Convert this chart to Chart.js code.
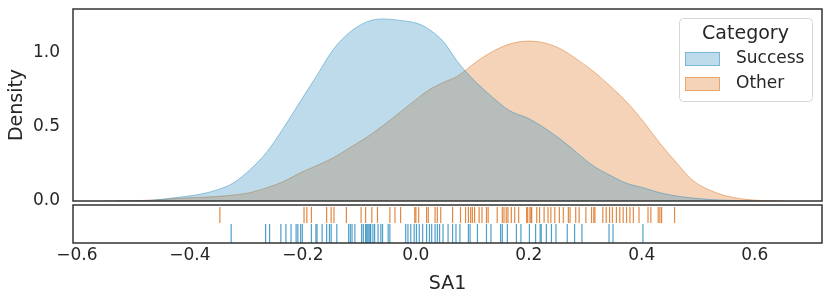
<!DOCTYPE html>
<html>
<head>
<meta charset="utf-8">
<script src="https://cdn.jsdelivr.net/npm/chart.js@4.4.1/dist/chart.umd.min.js"></script>
<style>
  html, body { margin: 0; padding: 0; background: #fff; }
  #wrap { position: relative; width: 831px; height: 306px; }
  #kde-wrap { position: absolute; left: 0; top: 0; width: 831px; height: 216px; }
  #rug-wrap { position: absolute; left: 0; top: 204px; width: 831px; height: 102px; }
</style>
</head>
<body>
<div id="wrap">
  <div id="kde-wrap"><canvas id="kde-chart"></canvas></div>
  <div id="rug-wrap"><canvas id="rug-chart"></canvas></div>
</div>
<script>
const categories = ["Success", "Other"];

// density curves
const successKdeX = [-0.53, -0.47, -0.41, -0.382, -0.352, -0.324, -0.294, -0.264, -0.235, -0.205, -0.175, -0.147, -0.117, -0.087, -0.058, -0.028, 0.002, 0.019, 0.048, 0.072, 0.087, 0.107, 0.136, 0.166, 0.198, 0.225, 0.255, 0.284, 0.313, 0.343, 0.373, 0.402, 0.432, 0.461, 0.49, 0.52, 0.55, 0.6];
const successKdeY = [0, 0.005, 0.03, 0.045, 0.075, 0.12, 0.21, 0.33, 0.49, 0.67, 0.85, 1.02, 1.14, 1.21, 1.23, 1.22, 1.2, 1.17, 1.08, 0.95, 0.88, 0.8, 0.7, 0.61, 0.56, 0.5, 0.42, 0.33, 0.24, 0.175, 0.12, 0.09, 0.056, 0.034, 0.02, 0.01, 0.005, 0];
const otherKdeX = [-0.55, -0.47, -0.41, -0.352, -0.324, -0.294, -0.264, -0.235, -0.205, -0.175, -0.147, -0.117, -0.087, -0.058, -0.028, 0.002, 0.019, 0.048, 0.072, 0.087, 0.107, 0.136, 0.166, 0.198, 0.225, 0.255, 0.284, 0.313, 0.343, 0.373, 0.402, 0.432, 0.461, 0.49, 0.52, 0.55, 0.58, 0.614, 0.65];
const otherKdeY = [0, 0.005, 0.02, 0.03, 0.04, 0.056, 0.09, 0.13, 0.19, 0.24, 0.29, 0.36, 0.43, 0.51, 0.6, 0.69, 0.74, 0.8, 0.84, 0.88, 0.94, 1.01, 1.06, 1.08, 1.07, 1.03, 0.96, 0.88, 0.78, 0.67, 0.54, 0.39, 0.26, 0.14, 0.074, 0.034, 0.013, 0.003, 0];

// rug observations
const successRug = [-0.327, -0.266, -0.259, -0.239, -0.230, -0.221, -0.212, -0.209, -0.204, -0.201, -0.185, -0.177, -0.175, -0.166, -0.158, -0.153, -0.150, -0.140, -0.119, -0.116, -0.113, -0.108, -0.096, -0.093, -0.089, -0.087, -0.085, -0.083, -0.081, -0.080, -0.076, -0.073, -0.067, -0.062, -0.059, -0.049, -0.046, -0.018, -0.014, -0.009, -0.003, 0.001, 0.006, 0.012, 0.019, 0.024, 0.028, 0.034, 0.038, 0.042, 0.048, 0.057, 0.065, 0.071, 0.078, 0.093, 0.096, 0.109, 0.125, 0.133, 0.150, 0.153, 0.162, 0.178, 0.186, 0.201, 0.212, 0.220, 0.222, 0.231, 0.240, 0.248, 0.268, 0.281, 0.294, 0.342, 0.349, 0.402];
const otherRug = [-0.347, -0.198, -0.193, -0.185, -0.158, -0.150, -0.145, -0.123, -0.097, -0.089, -0.078, -0.068, -0.046, -0.037, -0.027, -0.002, 0.000, 0.005, 0.019, 0.022, 0.034, 0.038, 0.044, 0.065, 0.079, 0.088, 0.093, 0.097, 0.100, 0.104, 0.112, 0.117, 0.125, 0.128, 0.144, 0.153, 0.156, 0.160, 0.163, 0.169, 0.175, 0.182, 0.196, 0.198, 0.202, 0.204, 0.205, 0.214, 0.219, 0.227, 0.234, 0.239, 0.246, 0.254, 0.261, 0.270, 0.273, 0.283, 0.289, 0.301, 0.311, 0.315, 0.317, 0.331, 0.337, 0.343, 0.348, 0.355, 0.361, 0.367, 0.373, 0.379, 0.385, 0.395, 0.411, 0.416, 0.429, 0.432, 0.435, 0.458];

const xTicks = [-0.6, -0.4, -0.2, 0.0, 0.2, 0.4, 0.6];
const densityTicks = [0.0, 0.5, 1.0];

const X_MIN = -0.607;
const X_MAX = 0.719;
const Y_MAX = 1.297;

const BLUE = "35, 135, 190";
const ORANGE = "218, 108, 20";
const TEXT = "#262626";
const FONT = "'DejaVu Sans', sans-serif";

const fmt = (v) => v.toFixed(1).replace("-", "\u2212");
const toPoints = (xs, ys) => xs.map((x, i) => ({ x, y: ys[i] }));

const frame = {
  id: "frame",
  afterDraw(chart) {
    const { ctx, chartArea: a } = chart;
    ctx.save();
    ctx.strokeStyle = "#333333";
    ctx.lineWidth = 1.5;
    ctx.strokeRect(a.left, a.top, a.right - a.left, a.bottom - a.top);
    ctx.restore();
  },
};

const categoryLegend = {
  id: "categoryLegend",
  afterDraw(chart) {
    const { ctx } = chart;
    const left = 679, top = 18, width = 133, height = 83;
    ctx.save();
    ctx.beginPath();
    ctx.roundRect(left + 0.5, top + 0.5, width, height, 4);
    ctx.fillStyle = "rgba(255,255,255,0.8)";
    ctx.fill();
    ctx.strokeStyle = "#d6d6d6";
    ctx.lineWidth = 1;
    ctx.stroke();

    ctx.fillStyle = TEXT;
    ctx.textBaseline = "middle";
    ctx.textAlign = "center";
    ctx.font = `19px ${FONT}`;
    ctx.fillText("Category", left + width / 2, 34);

    ctx.textAlign = "left";
    ctx.font = `17px ${FONT}`;
    chart.data.datasets.forEach((ds, i) => {
      const y = 52 + i * 25;
      ctx.fillStyle = ds.backgroundColor;
      ctx.fillRect(685, y, 35, 14);
      ctx.strokeStyle = ds.borderColor;
      ctx.lineWidth = 1;
      ctx.strokeRect(685.5, y + 0.5, 34, 13);
      ctx.fillStyle = TEXT;
      ctx.fillText(ds.label, 736, y + 7);
    });
    ctx.restore();
  },
};

new Chart(document.querySelector("#kde-chart"), {
  type: "line",
  data: {
    datasets: [
      {
        label: categories[0],
        data: toPoints(successKdeX, successKdeY),
        backgroundColor: `rgba(${BLUE}, 0.3)`,
        borderColor: `rgba(${BLUE}, 0.45)`,
        borderWidth: 1,
        fill: "origin",
        pointRadius: 0,
        cubicInterpolationMode: "monotone",
      },
      {
        label: categories[1],
        data: toPoints(otherKdeX, otherKdeY),
        backgroundColor: `rgba(${ORANGE}, 0.3)`,
        borderColor: `rgba(${ORANGE}, 0.45)`,
        borderWidth: 1,
        fill: "origin",
        pointRadius: 0,
        cubicInterpolationMode: "monotone",
      },
    ],
  },
  options: {
    responsive: true,
    maintainAspectRatio: false,
    animation: false,
    events: [],
    layout: { autoPadding: false, padding: { top: 9, right: 9, bottom: 15, left: 0 } },
    scales: {
      x: { type: "linear", min: X_MIN, max: X_MAX, display: false },
      y: {
        min: 0,
        max: Y_MAX,
        afterBuildTicks: (scale) => {
          scale.ticks = densityTicks.map((value) => ({ value }));
        },
        afterFit: (scale) => {
          scale.width = 73;
          scale.paddingTop = 0;
          scale.paddingBottom = 0;
        },
        grid: { display: false, drawTicks: false },
        border: { display: false },
        ticks: { color: TEXT, font: { family: FONT, size: 17 }, padding: 13, callback: (v) => fmt(v) },
        title: {
          display: true,
          text: "Density",
          color: TEXT,
          font: { family: FONT, size: 19 },
          padding: { top: 6, bottom: 0 },
        },
      },
    },
    plugins: { legend: { display: false }, tooltip: { enabled: false } },
  },
  plugins: [frame, categoryLegend],
});

new Chart(document.querySelector("#rug-chart"), {
  type: "scatter",
  data: {
    datasets: [
      {
        label: categories[0],
        data: successRug.map((x) => ({ x, y: 0.25 })),
        pointStyle: "line",
        rotation: 90,
        radius: 9.5,
        borderWidth: 1.2,
        borderColor: `rgba(${BLUE}, 0.8)`,
      },
      {
        label: categories[1],
        data: otherRug.map((x) => ({ x, y: 0.737 })),
        pointStyle: "line",
        rotation: 90,
        radius: 8,
        borderWidth: 1.2,
        borderColor: `rgba(${ORANGE}, 0.8)`,
      },
    ],
  },
  options: {
    responsive: true,
    maintainAspectRatio: false,
    animation: false,
    events: [],
    layout: { autoPadding: false, padding: { top: 1, right: 9, bottom: 0, left: 0 } },
    scales: {
      x: {
        type: "linear",
        min: X_MIN,
        max: X_MAX,
        afterBuildTicks: (scale) => {
          scale.ticks = xTicks.map((value) => ({ value }));
        },
        afterFit: (scale) => {
          scale.height = 63;
        },
        grid: { display: false, drawTicks: false },
        border: { display: false },
        ticks: { color: TEXT, font: { family: FONT, size: 17 }, padding: 2, maxRotation: 0, callback: (v) => fmt(v) },
        title: {
          display: true,
          text: "SA1",
          color: TEXT,
          font: { family: FONT, size: 19 },
          padding: { top: 0, bottom: 11 },
        },
      },
      y: {
        min: 0,
        max: 1,
        afterFit: (scale) => {
          scale.width = 73;
        },
        grid: { display: false, drawTicks: false },
        border: { display: false },
        ticks: { display: false },
      },
    },
    plugins: { legend: { display: false }, tooltip: { enabled: false } },
  },
  plugins: [frame],
});
</script>
</body>
</html>
